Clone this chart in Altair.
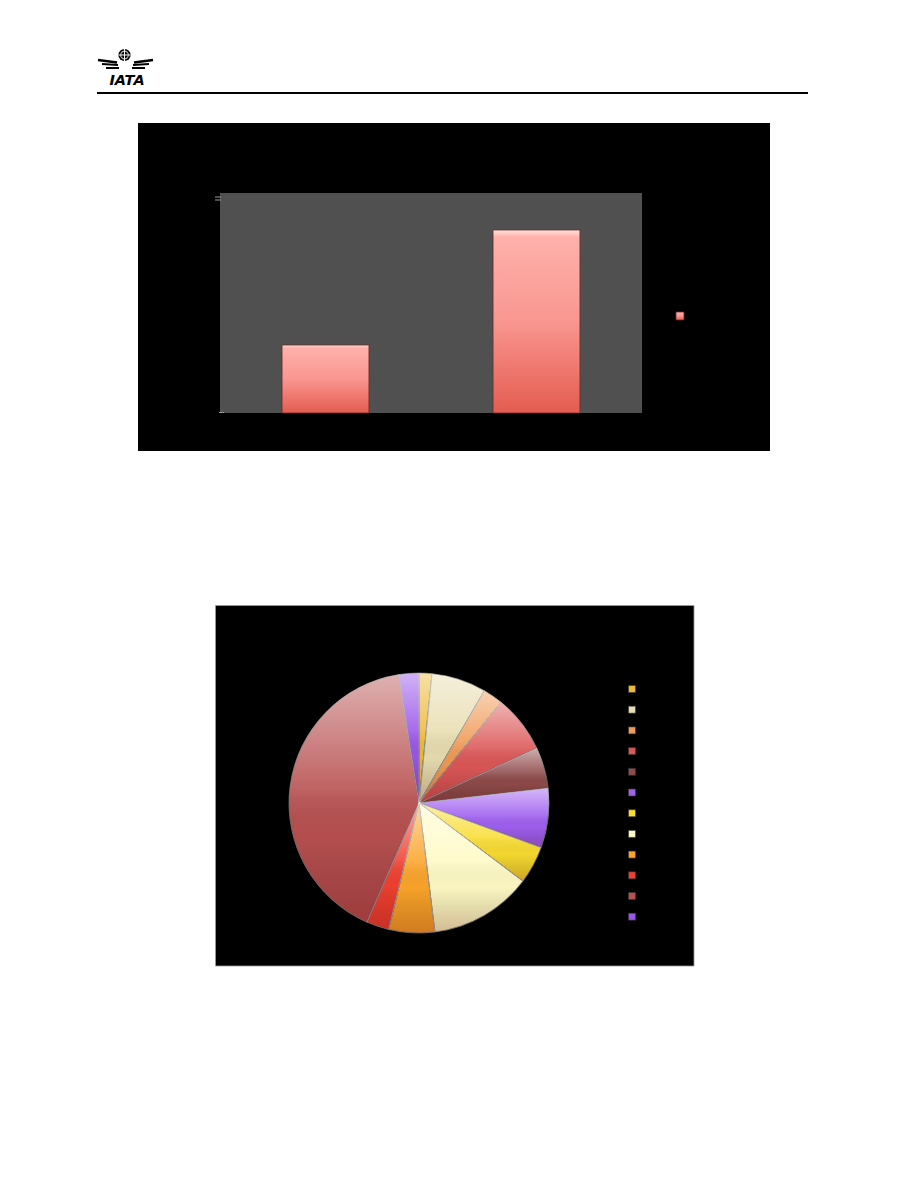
import altair as alt
import pandas as pd

# ---------------- data ----------------
bar_categories = ["Category 1", "Category 2"]
bar_values = [31.6, 85.1]

pie_categories = ["S1", "S2", "S3", "S4", "S5", "S6",
                  "S7", "S8", "S9", "S10", "S11", "S12"]
pie_values = [1.6, 6.8, 2.5, 7.2, 5.1, 7.4, 4.7, 12.8, 5.7, 2.8, 41.0, 2.5]
pie_colors = ["#EDBB3A", "#E8DDB0", "#F09A55", "#DC5656", "#8E4A4A", "#A060F0",
              "#F8DC30", "#FFFAC4", "#FBA42A", "#F04030", "#B85050", "#9A55EA"]

W, H = 918, 1188

bar_df = pd.DataFrame({"cat": bar_categories, "value": bar_values})
pie_df = pd.DataFrame({"cat": pie_categories, "value": pie_values,
                       "idx": list(range(len(pie_categories)))})
one = pd.DataFrame({"d": [0]})

# ---------------- page header (logo + rule) ----------------
header_rule = alt.Chart(one).mark_rule(color="black", strokeWidth=2).encode(
    x=alt.value(97), x2=alt.value(808), y=alt.value(93))

globe = alt.Chart(one).mark_circle(color="black", opacity=1, size=150).encode(
    x=alt.value(124.5), y=alt.value(55))
globe_ring = alt.Chart(one).mark_point(color="white", shape="circle", size=60,
                                       strokeWidth=1.1, filled=False).encode(
    x=alt.value(124.5), y=alt.value(55))
globe_v = alt.Chart(one).mark_rule(color="white", strokeWidth=1).encode(
    x=alt.value(124.5), y=alt.value(49), y2=alt.value(61))
globe_h = alt.Chart(one).mark_rule(color="white", strokeWidth=1).encode(
    x=alt.value(118.5), x2=alt.value(130.5), y=alt.value(55))

wing_layers = []
for (x1, y1, x2, y2, sw) in [(98, 60, 117, 62.5, 2.4), (102, 64, 118, 65, 2.2),
                             (106, 68, 119, 68, 2.0)]:
    wing_layers.append(alt.Chart(one).mark_rule(color="black", strokeWidth=sw).encode(
        x=alt.value(x1), x2=alt.value(x2), y=alt.value(y1), y2=alt.value(y2)))
    wing_layers.append(alt.Chart(one).mark_rule(color="black", strokeWidth=sw).encode(
        x=alt.value(251 - x1), x2=alt.value(251 - x2), y=alt.value(y1), y2=alt.value(y2)))

logo_text = alt.Chart(one).mark_text(text="IATA", font="DejaVu Sans", fontSize=14.5,
                                     fontWeight="bold", fontStyle="italic", color="black",
                                     align="center", baseline="alphabetic").encode(
    x=alt.value(127), y=alt.value(85))

# ---------------- bar chart panel ----------------
bar_panel = alt.Chart(one).mark_rect(color="black").encode(
    x=alt.value(138), x2=alt.value(770), y=alt.value(123), y2=alt.value(451))
plot_bg = alt.Chart(one).mark_rect(color="#505050").encode(
    x=alt.value(220), x2=alt.value(642), y=alt.value(193), y2=alt.value(413))

bar_grad = alt.Gradient(gradient="linear", x1=0, y1=0, x2=0, y2=1, stops=[
    alt.GradientStop(color="#FFE2DE", offset=0),
    alt.GradientStop(color="#FFB1AB", offset=0.04),
    alt.GradientStop(color="#F99690", offset=0.5),
    alt.GradientStop(color="#E45C50", offset=1)])

bars = alt.Chart(bar_df).mark_bar(color=bar_grad, stroke="#6a2a26", strokeWidth=0.8).encode(
    x=alt.X("cat:N", sort=bar_categories, axis=None,
            scale=alt.Scale(range=[220, 642], paddingInner=0.588, paddingOuter=0.294)),
    y=alt.Y("value:Q", axis=None, scale=alt.Scale(domain=[0, 102.3], range=[413, 193], nice=False)),
)

bar_tick_top = alt.Chart(one).mark_rule(color="#9a9a9a", strokeWidth=1).encode(
    x=alt.value(215), x2=alt.value(221), y=alt.value(197))
bar_tick_top2 = alt.Chart(one).mark_rule(color="#9a9a9a", strokeWidth=1).encode(
    x=alt.value(215), x2=alt.value(221), y=alt.value(200))
bar_tick_bot = alt.Chart(one).mark_rule(color="#9a9a9a", strokeWidth=1).encode(
    x=alt.value(219), x2=alt.value(224), y=alt.value(412.5))

bar_legend_sym = alt.Chart(bar_df.iloc[[0]]).mark_square(color=bar_grad, size=64,
                                                         stroke="#6a2a26", strokeWidth=0.8,
                                                         opacity=1).encode(
    x=alt.value(680), y=alt.value(316))

# ---------------- pie chart panel ----------------
pie_panel = alt.Chart(one).mark_rect(color="black", stroke="#9a9a9a", strokeWidth=0.8).encode(
    x=alt.value(215.5), x2=alt.value(694), y=alt.value(605.5), y2=alt.value(966))

pie = alt.Chart(pie_df).mark_arc(outerRadius=130, stroke="#2a2a2a", strokeWidth=0.7).encode(
    x=alt.value(419), y=alt.value(803),
    theta=alt.Theta("value:Q", stack=True),
    order=alt.Order("idx:Q"),
    color=alt.Color("cat:N", sort=pie_categories,
                    scale=alt.Scale(domain=pie_categories, range=pie_colors),
                    legend=alt.Legend(orient="none", legendX=627, legendY=684, title=None,
                                      symbolType="square", symbolSize=49,
                                      symbolStrokeColor="#333333", symbolStrokeWidth=0.6,
                                      labelColor="black", labelFontSize=10, labelLimit=30,
                                      rowPadding=10.7, padding=0)),
)

shade = alt.Gradient(gradient="linear", x1=0, y1=0, x2=0, y2=1, stops=[
    alt.GradientStop(color="rgba(255,255,255,0.55)", offset=0),
    alt.GradientStop(color="rgba(255,255,255,0.12)", offset=0.45),
    alt.GradientStop(color="rgba(0,0,0,0.02)", offset=0.65),
    alt.GradientStop(color="rgba(90,0,0,0.25)", offset=1)])

pie_shade = alt.Chart(pie_df).mark_arc(outerRadius=130, color=shade,
                                       stroke="rgba(255,255,255,0.35)", strokeWidth=0.8).encode(
    x=alt.value(419), y=alt.value(803),
    theta=alt.Theta("value:Q", stack=True),
    order=alt.Order("idx:Q"),
)

chart = alt.layer(
    header_rule, *wing_layers, globe, globe_ring, globe_v, globe_h, logo_text,
    bar_panel, plot_bg, bars, bar_tick_top, bar_tick_top2, bar_tick_bot, bar_legend_sym,
    pie_panel, pie, pie_shade,
).properties(
    width=W, height=H, padding=0, autosize=alt.AutoSizeParams(type="none"),
    background="white",
).configure_view(stroke=None)

chart.save("out.html", embed_options={"renderer": "svg", "actions": False})
